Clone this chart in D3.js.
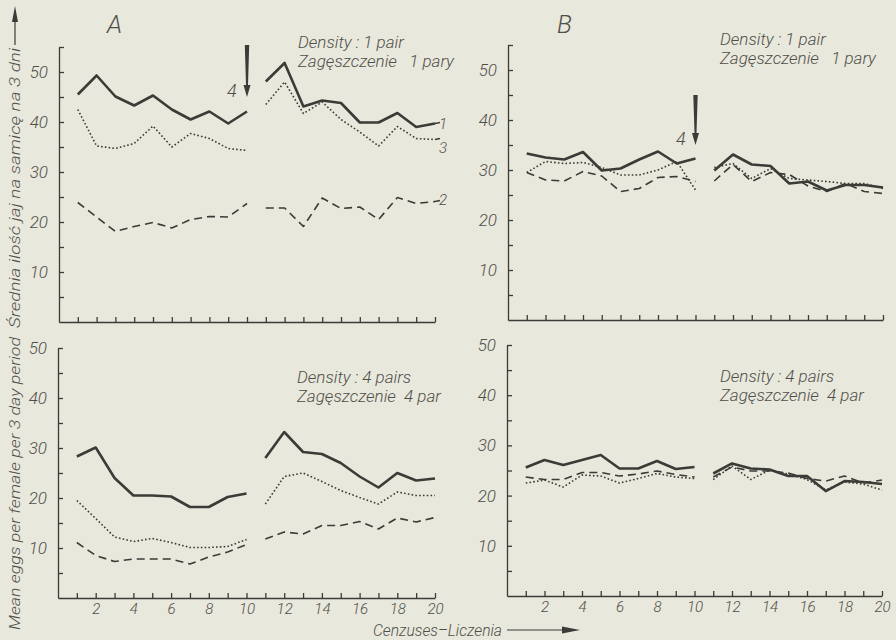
<!DOCTYPE html>
<html>
<head>
<meta charset="utf-8">
<script src="https://cdn.jsdelivr.net/npm/d3@7"></script>
<style>
  html, body { margin: 0; padding: 0; background: #e9e8dc; }
  svg { display: block; }
  text { font-family: Roboto, "Liberation Sans", sans-serif; font-weight: 300; font-style: italic; fill: #4f4f4a; }
</style>
</head>
<body>
<svg id="chart" width="896" height="640"></svg>
<script>
// ---------- data ----------
const censuses = [1,2,3,4,5,6,7,8,9,10,11,12,13,14,15,16,17,18,19,20];
const tickLabelsX = [2,4,6,8,10,12,14,16,18,20];
const tickLabelsY = [10,20,30,40,50];

// Panel A, density 1 pair
const A1_series1 = [45.5,49.3,45.1,43.3,45.3,42.5,40.5,42.1,39.7,42.1, 48.1,51.8,43.1,44.3,43.8,39.9,39.9,41.8,39.0,39.7];
const A1_series3 = [42.5,35.2,34.7,35.7,39.2,35.0,37.7,36.7,34.7,34.3, 43.5,48.0,41.7,44.0,40.5,38.0,35.2,39.1,36.7,36.5];
const A1_series2 = [23.9,21.0,18.1,19.1,19.9,18.8,20.5,21.1,21.0,23.7, 22.8,22.8,19.1,24.8,22.7,23.0,20.5,24.9,23.7,24.1];
// Panel A, density 4 pairs
const A2_series1 = [28.3,30.1,24.0,20.5,20.5,20.3,18.2,18.2,20.2,20.9, 28.0,33.2,29.2,28.8,27.0,24.3,22.1,25.0,23.5,23.9];
const A2_series3 = [19.5,15.9,12.2,11.3,11.9,11.1,10.1,10.1,10.3,11.7, 18.8,24.3,25.0,23.3,21.5,20.1,18.8,21.2,20.5,20.5];
const A2_series2 = [11.1,8.5,7.3,7.8,7.8,7.8,6.8,8.2,9.2,10.7, 11.8,13.2,12.8,14.5,14.5,15.3,13.8,16.0,15.2,16.1];
// Panel B, density 1 pair
const B1_series1 = [33.3,32.5,32.1,33.6,29.9,30.3,32.1,33.7,31.3,32.3, 29.9,33.1,31.1,30.8,27.3,27.7,25.9,27.0,27.0,26.5];
const B1_series3 = [29.5,31.7,31.3,31.5,30.5,29.0,29.0,30.0,31.7,26.0, 30.5,31.3,28.3,30.3,28.3,28.0,27.7,27.3,27.3,26.3];
const B1_series2 = [29.5,28.0,27.8,29.7,28.8,25.7,26.3,28.5,28.7,27.7, 27.8,31.1,27.7,29.5,29.1,26.8,25.7,27.3,25.7,25.3];
// Panel B, density 4 pairs
const B2_series1 = [25.6,27.1,26.1,27.1,28.1,25.4,25.4,26.9,25.3,25.7, 24.4,26.4,25.4,25.2,23.9,23.9,20.9,22.9,22.7,22.3];
const B2_series3 = [22.5,23.1,21.7,24.1,23.9,22.5,23.4,24.4,23.7,23.4, 23.2,25.9,23.2,25.1,24.3,23.2,21.1,22.7,22.3,21.1];
const B2_series2 = [23.7,23.2,23.2,24.6,24.6,23.9,24.3,24.9,24.2,23.7, 23.7,25.7,24.9,24.9,24.5,23.4,22.9,23.9,22.5,23.1];

const densityLabels1 = ["Density : 1 pair", "Zagęszczenie   1 pary"];
const densityLabels4 = ["Density : 4 pairs", "Zagęszczenie  4 par"];
const seriesLabels = ["1", "3", "2"];

// ---------- drawing ----------
const svg = d3.select("#chart");
const INK = "#3b3b37";
const TXT = "#4f4f4a";

const styles = {
  s1: {w: 2.6, dash: null},
  s3: {w: 1.6, dash: "1.6,2.2"},
  s2: {w: 1.6, dash: "8,5"}
};

const panels = [
  {x0: 59, x20: 435, y0: 322, y50: 72, ymax: 55, xlabels: false, s1: A1_series1, s3: A1_series3, s2: A1_series2,
   dens: densityLabels1, dx: 298, dy: 48},
  {x0: 58, x20: 435, y0: 598, y50: 348, ymax: 50, xlabels: true, s1: A2_series1, s3: A2_series3, s2: A2_series2,
   dens: densityLabels4, dx: 297, dy: 383},
  {x0: 508, x20: 883, y0: 320, y50: 70, ymax: 55, xlabels: false, s1: B1_series1, s3: B1_series3, s2: B1_series2,
   dens: densityLabels1, dx: 720, dy: 45},
  {x0: 507, x20: 882, y0: 596, y50: 345, ymax: 50, xlabels: true, s1: B2_series1, s3: B2_series3, s2: B2_series2,
   dens: densityLabels4, dx: 720, dy: 382}
];

panels.forEach(p => {
  const x = d3.scaleLinear().domain([0, 20]).range([p.x0, p.x20]);
  const ppu = (p.y0 - p.y50) / 50;
  const y = d3.scaleLinear().domain([0, p.ymax]).range([p.y0, p.y0 - p.ymax * ppu]);
  const g = svg.append("g");

  // y axis
  const yTicks = d3.range(5, p.ymax + 0.1, 5);
  const yAxis = d3.axisLeft(y).tickValues(yTicks).tickSizeInner(-5).tickSizeOuter(0).tickPadding(11)
    .tickFormat(d => tickLabelsY.includes(d) ? d : "");
  const ya = g.append("g").attr("transform", `translate(${p.x0},0)`).call(yAxis);
  ya.selectAll("path, line").attr("stroke", INK).attr("stroke-width", 1.3);
  ya.selectAll("text").attr("font-size", 17).style("fill", TXT).attr("font-family", null);

  // x axis
  const xAxis = d3.axisBottom(x).tickValues(censuses).tickSizeInner(-5).tickSizeOuter(0).tickPadding(5)
    .tickFormat(d => (p.xlabels && tickLabelsX.includes(d)) ? d : "");
  const xa = g.append("g").attr("transform", `translate(0,${p.y0})`).call(xAxis);
  xa.selectAll("path, line").attr("stroke", INK).attr("stroke-width", 1.3);
  xa.selectAll("text").attr("font-size", 15).style("fill", TXT).attr("font-family", null);

  // lines (two segments: censuses 1-10 and 11-20)
  const line = d3.line().x(d => x(d.c)).y(d => y(d.v));
  ["s2", "s3", "s1"].forEach(k => {
    const pts = censuses.map((c, i) => ({c, v: p[k][i]}));
    [pts.slice(0, 10), pts.slice(10)].forEach(seg => {
      g.append("path").datum(seg).attr("d", line)
        .attr("fill", "none").attr("stroke", INK)
        .attr("stroke-width", styles[k].w)
        .attr("stroke-linejoin", "round")
        .attr("stroke-dasharray", styles[k].dash);
    });
  });

  // density label
  g.append("text").attr("x", p.dx).attr("y", p.dy).attr("font-size", 17).text(p.dens[0]);
  g.append("text").attr("x", p.dx).attr("y", p.dy + 19).attr("font-size", 17).attr("xml:space", "preserve").text(p.dens[1]);

  p.xs = x; p.ys = y;
});

// panel letters
svg.append("text").attr("x", 107).attr("y", 33).attr("font-size", 25).text("A");
svg.append("text").attr("x", 557).attr("y", 33).attr("font-size", 25).text("B");

// series labels (panel A top)
const pA = panels[0];
const labelShift = [5, 13, 3];
[A1_series1, A1_series3, A1_series2].forEach((s, i) => {
  const yy = pA.ys(s[19]);
  svg.append("line").attr("x1", pA.xs(20)).attr("x2", pA.xs(20) + 5).attr("y1", yy).attr("y2", yy - 1)
    .attr("stroke", INK).attr("stroke-width", 1.4);
  svg.append("text").attr("x", pA.xs(20) + 4).attr("y", yy + labelShift[i]).attr("font-size", 15).text(seriesLabels[i]);
});

// arrow markers "4"
function dropArrow(cx, ytop, ybot, lx, ly) {
  const path = `M${cx-2.2},${ytop} L${cx+2.2},${ytop} L${cx+1},${ybot-12} L${cx+3.5},${ybot-12} L${cx},${ybot} L${cx-3.5},${ybot-12} L${cx-1},${ybot-12} Z`;
  svg.append("path").attr("d", path).attr("fill", INK);
  svg.append("text").attr("x", lx).attr("y", ly).attr("font-size", 18).text("4");
}
dropArrow(pA.xs(10), 45, 97, 227, 97);
dropArrow(panels[2].xs(10), 95, 145, 676, 145);

// y axis title (vertical)
const yt = svg.append("g").attr("transform", "translate(20,0)");
yt.append("text").attr("transform", "translate(0,630) rotate(-90)").attr("font-size", 15)
  .attr("textLength", 293).attr("lengthAdjust", "spacingAndGlyphs")
  .text("Mean eggs per female per 3 day period");
yt.append("text").attr("transform", "translate(0,328) rotate(-90)").attr("font-size", 15)
  .attr("textLength", 280).attr("lengthAdjust", "spacingAndGlyphs")
  .text("Średnia ilość jaj na samicę na 3 dni");
svg.append("line").attr("x1", 15).attr("x2", 15).attr("y1", 45).attr("y2", 20).attr("stroke", INK).attr("stroke-width", 1.2);
svg.append("path").attr("d", "M15,6 L18,22 L12,22 Z").attr("fill", INK);

// x axis title
svg.append("text").attr("x", 373).attr("y", 636).attr("font-size", 16)
  .attr("textLength", 129).attr("lengthAdjust", "spacingAndGlyphs").text("Cenzuses–Liczenia");
svg.append("line").attr("x1", 507).attr("x2", 565).attr("y1", 630).attr("y2", 630).attr("stroke", INK).attr("stroke-width", 1.2);
svg.append("path").attr("d", "M580,630 L562,626.5 L562,633.5 Z").attr("fill", INK);
</script>
</body>
</html>
